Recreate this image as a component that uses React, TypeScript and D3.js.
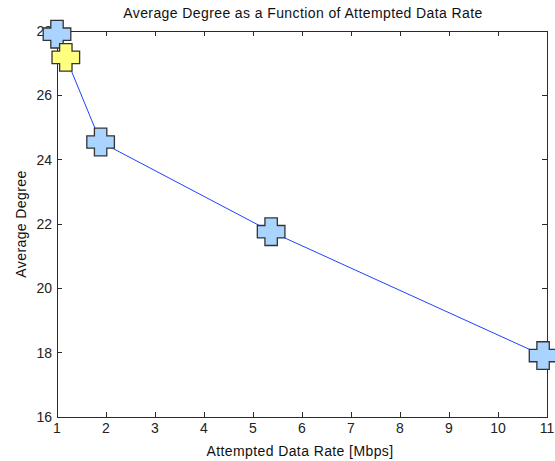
import React from "react";
import * as d3 from "d3";

const rates = [1.0, 1.18, 1.89, 5.37, 10.92];
const degrees = [27.9, 27.18, 24.55, 21.76, 17.91];
const highlight = [false, true, false, false, false];
const xTicks = [1, 2, 3, 4, 5, 6, 7, 8, 9, 10, 11];
const yTicks = [16, 18, 20, 22, 24, 26, 28];

const W = 555, H = 461;
const L = 57, R = 547, T = 31, B = 417;
const FONT = "'Liberation Sans', Arial, sans-serif";

export default function App() {
  const x = d3.scaleLinear().domain([1, 11]).range([L, R]);
  const y = d3.scaleLinear().domain([16, 28]).range([B, T]);
  const line = d3.line<number>().x((_, i) => x(rates[i])).y((d) => y(d));
  const hw = 13.8, ha = 6.2;
  const cross = `M${-ha},${-hw}H${ha}V${-ha}H${hw}V${ha}H${ha}V${hw}H${-ha}V${ha}H${-hw}V${-ha}H${-ha}Z`;
  const tk = 5;
  const axisColor = "#2b2b2b";
  const ls = 0.4;
  return (
    <svg width={W} height={H} style={{ position: "absolute", left: 0, top: 0, background: "#fff" }} fontFamily={FONT}>
      <rect x={0} y={0} width={W} height={H} fill="#fff" />
      <rect x={L} y={T} width={R - L} height={B - T} fill="#fff" stroke={axisColor} strokeWidth={1} shapeRendering="crispEdges" />
      {xTicks.map((t) => (
        <g key={"x" + t}>
          <line x1={x(t)} x2={x(t)} y1={B} y2={B - tk} stroke={axisColor} shapeRendering="crispEdges" />
          <line x1={x(t)} x2={x(t)} y1={T} y2={T + tk} stroke={axisColor} shapeRendering="crispEdges" />
          <text x={x(t)} y={433} fontSize={14} textAnchor="middle" fill="#222">{t}</text>
        </g>
      ))}
      {yTicks.map((t) => (
        <g key={"y" + t}>
          <line x1={L} x2={L + tk} y1={y(t)} y2={y(t)} stroke={axisColor} shapeRendering="crispEdges" />
          <line x1={R} x2={R - tk} y1={y(t)} y2={y(t)} stroke={axisColor} shapeRendering="crispEdges" />
          <text x={52} y={y(t) + 5} fontSize={14} textAnchor="end" fill="#222">{t}</text>
        </g>
      ))}
      <path d={line(degrees) || ""} fill="none" stroke="#2040ff" strokeWidth={1} />
      {degrees.map((d, i) => (
        <path key={"m" + i} d={cross} transform={`translate(${x(rates[i])},${y(d)})`}
          fill={highlight[i] ? "#ffff80" : "#a8d4ff"} stroke="#333" strokeWidth={1.3} />
      ))}
      <text x={303} y={18} fontSize={14} letterSpacing={ls} textAnchor="middle" fill="#111">Average Degree as a Function of Attempted Data Rate</text>
      <text x={300} y={456} fontSize={14} letterSpacing={ls} textAnchor="middle" fill="#111">Attempted Data Rate [Mbps]</text>
      <text transform={`translate(26,${(T + B) / 2}) rotate(-90)`} fontSize={14} letterSpacing={ls} textAnchor="middle" fill="#111">Average Degree</text>
    </svg>
  );
}
